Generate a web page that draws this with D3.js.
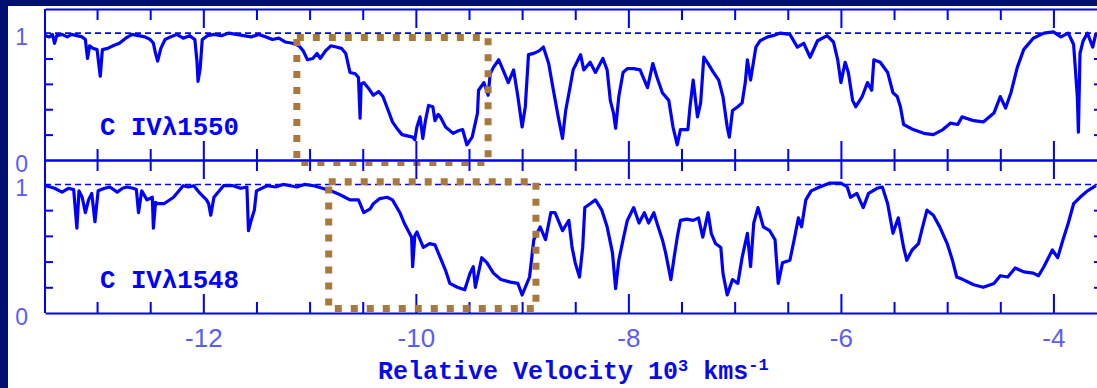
<!DOCTYPE html>
<html>
<head>
<meta charset="utf-8">
<script src="https://cdn.jsdelivr.net/npm/d3@7"></script>
<style>
  html, body { margin: 0; padding: 0; background: #ffffff; }
  svg { display: block; }
</style>
</head>
<body>
<svg id="chart" width="1097" height="388"></svg>
<script>
// C IV doublet absorption profiles: normalised flux against relative velocity (10^3 km/s)
const lineLabels = ["C IV\u03BB1550", "C IV\u03BB1548"];

const spectrum1550 = [
  [-13.49,0.98],[-13.45,0.97],[-13.42,0.99],[-13.40,0.92],[-13.38,0.98],[-13.33,0.99],[-13.28,0.97],[-13.24,0.99],
  [-13.19,0.98],[-13.14,0.97],[-13.11,0.95],[-13.09,0.80],[-13.07,0.90],[-13.04,0.88],[-13.00,0.87],[-12.97,0.66],
  [-12.95,0.87],[-12.90,0.88],[-12.85,0.90],[-12.79,0.92],[-12.73,0.96],[-12.67,0.99],[-12.61,0.98],[-12.55,0.97],
  [-12.50,0.95],[-12.47,0.92],[-12.45,0.84],[-12.43,0.78],[-12.40,0.88],[-12.36,0.95],[-12.31,0.97],[-12.25,0.99],
  [-12.19,0.96],[-12.13,0.98],[-12.08,0.95],[-12.06,0.78],[-12.05,0.62],[-12.03,0.72],[-12.01,0.95],[-11.96,0.98],
  [-11.90,0.99],[-11.83,0.98],[-11.76,1.00],[-11.69,0.99],[-11.62,0.98],[-11.55,0.97],[-11.48,0.99],[-11.41,0.97],
  [-11.35,0.95],[-11.29,0.96],[-11.23,0.93],[-11.16,0.92],[-11.10,0.90],[-11.06,0.86],[-11.02,0.79],[-10.97,0.80],
  [-10.93,0.84],[-10.90,0.80],[-10.85,0.86],[-10.80,0.90],[-10.75,0.89],[-10.70,0.88],[-10.66,0.84],[-10.62,0.69],
  [-10.57,0.68],[-10.54,0.65],[-10.525,0.33],[-10.515,0.60],[-10.49,0.61],[-10.45,0.57],[-10.40,0.51],[-10.35,0.54],
  [-10.31,0.50],[-10.26,0.39],[-10.22,0.30],[-10.17,0.24],[-10.13,0.20],[-10.08,0.19],[-10.03,0.18],[-10.01,0.16],
  [-9.99,0.26],[-9.96,0.34],[-9.935,0.17],[-9.91,0.31],[-9.88,0.43],[-9.84,0.42],[-9.82,0.31],[-9.79,0.36],
  [-9.77,0.34],[-9.72,0.26],[-9.65,0.21],[-9.60,0.23],[-9.56,0.24],[-9.52,0.12],[-9.47,0.18],[-9.42,0.37],
  [-9.41,0.55],[-9.36,0.61],[-9.32,0.51],[-9.30,0.68],[-9.27,0.73],[-9.22,0.79],[-9.18,0.71],[-9.13,0.61],
  [-9.08,0.71],[-9.04,0.50],[-9.00,0.26],[-8.97,0.42],[-8.94,0.83],[-8.89,0.84],[-8.84,0.86],[-8.80,0.89],
  [-8.75,0.76],[-8.71,0.57],[-8.66,0.34],[-8.62,0.17],[-8.59,0.39],[-8.55,0.57],[-8.52,0.71],[-8.45,0.83],
  [-8.42,0.71],[-8.36,0.77],[-8.31,0.69],[-8.24,0.80],[-8.20,0.71],[-8.17,0.47],[-8.14,0.37],[-8.12,0.25],
  [-8.09,0.50],[-8.05,0.69],[-8.01,0.72],[-7.95,0.72],[-7.89,0.71],[-7.82,0.57],[-7.77,0.76],[-7.73,0.65],
  [-7.68,0.53],[-7.62,0.47],[-7.58,0.26],[-7.54,0.12],[-7.51,0.24],[-7.44,0.24],[-7.42,0.42],[-7.39,0.63],
  [-7.35,0.34],[-7.32,0.45],[-7.29,0.81],[-7.25,0.76],[-7.20,0.69],[-7.15,0.63],[-7.11,0.50],[-7.07,0.26],
  [-7.05,0.18],[-7.02,0.39],[-6.97,0.42],[-6.93,0.45],[-6.90,0.61],[-6.88,0.79],[-6.85,0.63],[-6.80,0.89],
  [-6.76,0.94],[-6.69,0.97],[-6.64,0.98],[-6.57,1.00],[-6.48,0.99],[-6.41,0.89],[-6.35,0.92],[-6.29,0.81],
  [-6.22,0.94],[-6.13,0.98],[-6.07,0.93],[-6.03,0.79],[-6.00,0.61],[-5.96,0.77],[-5.93,0.69],[-5.89,0.47],
  [-5.86,0.42],[-5.80,0.50],[-5.75,0.61],[-5.71,0.55],[-5.69,0.79],[-5.63,0.77],[-5.56,0.69],[-5.51,0.53],
  [-5.47,0.50],[-5.44,0.42],[-5.41,0.28],[-5.32,0.24],[-5.22,0.21],[-5.13,0.20],[-5.04,0.24],[-4.97,0.29],
  [-4.90,0.28],[-4.86,0.34],[-4.75,0.31],[-4.66,0.30],[-4.56,0.37],[-4.50,0.50],[-4.45,0.41],[-4.40,0.53],
  [-4.34,0.73],[-4.28,0.87],[-4.19,0.96],[-4.09,1.00],[-4.00,1.01],[-3.93,0.97],[-3.86,1.00],[-3.81,0.91],
  [-3.775,0.50],[-3.765,0.22],[-3.75,0.84],[-3.72,0.94],[-3.68,1.00],[-3.63,0.89],[-3.60,1.00]
];

const spectrum1548 = [
  [-13.49,0.99],[-13.44,0.98],[-13.40,0.97],[-13.33,0.94],[-13.27,0.97],[-13.22,0.96],[-13.19,0.66],[-13.17,0.95],
  [-13.14,0.90],[-13.11,0.78],[-13.08,0.88],[-13.05,0.93],[-13.02,0.71],[-12.99,0.95],[-12.93,0.97],[-12.88,0.98],
  [-12.81,0.94],[-12.76,0.97],[-12.72,0.98],[-12.66,0.97],[-12.63,0.96],[-12.61,0.78],[-12.58,0.95],[-12.53,0.88],
  [-12.48,0.90],[-12.47,0.66],[-12.45,0.86],[-12.43,0.85],[-12.37,0.85],[-12.28,0.90],[-12.19,0.99],[-12.14,0.98],
  [-12.09,0.99],[-12.03,0.93],[-11.97,0.88],[-11.95,0.85],[-11.93,0.76],[-11.90,0.90],[-11.81,0.99],[-11.72,0.99],
  [-11.65,0.97],[-11.59,0.98],[-11.575,0.64],[-11.55,0.72],[-11.52,0.80],[-11.50,0.95],[-11.40,0.99],[-11.32,0.98],
  [-11.25,1.00],[-11.18,0.99],[-11.12,0.98],[-11.05,1.00],[-10.96,0.99],[-10.88,0.97],[-10.80,0.95],[-10.74,0.93],
  [-10.69,0.91],[-10.62,0.88],[-10.54,0.88],[-10.49,0.78],[-10.43,0.81],[-10.40,0.85],[-10.34,0.89],[-10.27,0.90],
  [-10.22,0.88],[-10.15,0.78],[-10.11,0.70],[-10.04,0.59],[-10.03,0.36],[-10.01,0.60],[-9.99,0.63],[-9.93,0.51],
  [-9.87,0.54],[-9.82,0.53],[-9.77,0.43],[-9.72,0.33],[-9.68,0.23],[-9.61,0.20],[-9.54,0.18],[-9.49,0.31],
  [-9.46,0.36],[-9.44,0.20],[-9.38,0.43],[-9.33,0.39],[-9.27,0.31],[-9.20,0.26],[-9.11,0.24],[-9.04,0.23],
  [-9.00,0.14],[-8.93,0.28],[-8.89,0.57],[-8.83,0.67],[-8.78,0.57],[-8.73,0.78],[-8.69,0.78],[-8.62,0.64],
  [-8.56,0.72],[-8.53,0.51],[-8.50,0.39],[-8.46,0.28],[-8.43,0.51],[-8.41,0.82],[-8.36,0.85],[-8.31,0.88],
  [-8.25,0.80],[-8.20,0.67],[-8.15,0.47],[-8.12,0.19],[-8.09,0.41],[-8.05,0.57],[-8.01,0.72],[-7.95,0.82],
  [-7.90,0.70],[-7.85,0.78],[-7.81,0.70],[-7.76,0.78],[-7.72,0.67],[-7.68,0.57],[-7.65,0.47],[-7.60,0.26],
  [-7.57,0.43],[-7.54,0.59],[-7.51,0.72],[-7.45,0.73],[-7.39,0.72],[-7.34,0.74],[-7.30,0.59],[-7.25,0.78],
  [-7.22,0.62],[-7.18,0.54],[-7.13,0.51],[-7.11,0.31],[-7.07,0.14],[-7.02,0.26],[-6.97,0.23],[-6.93,0.43],
  [-6.88,0.62],[-6.85,0.36],[-6.82,0.70],[-6.78,0.82],[-6.73,0.67],[-6.67,0.64],[-6.62,0.57],[-6.59,0.23],
  [-6.55,0.39],[-6.48,0.41],[-6.44,0.57],[-6.40,0.74],[-6.37,0.67],[-6.33,0.88],[-6.28,0.95],[-6.20,0.98],
  [-6.11,1.01],[-6.00,1.01],[-5.94,0.98],[-5.91,0.90],[-5.85,0.93],[-5.79,0.82],[-5.74,0.93],[-5.66,0.97],
  [-5.61,0.98],[-5.56,0.85],[-5.51,0.62],[-5.46,0.74],[-5.41,0.51],[-5.38,0.41],[-5.33,0.49],[-5.27,0.54],
  [-5.24,0.64],[-5.19,0.80],[-5.13,0.76],[-5.07,0.67],[-5.00,0.54],[-4.95,0.41],[-4.91,0.28],[-4.85,0.26],
  [-4.75,0.22],[-4.66,0.20],[-4.56,0.23],[-4.50,0.29],[-4.43,0.28],[-4.36,0.35],[-4.28,0.32],[-4.19,0.31],
  [-4.14,0.29],[-4.09,0.36],[-4.01,0.49],[-3.96,0.43],[-3.91,0.57],[-3.86,0.70],[-3.81,0.85],[-3.75,0.90],
  [-3.68,0.95],[-3.60,0.99]
];

// x axis: labelled majors and every half unit
const velocityTickLabels = [-12, -10, -8, -6, -4];
const velocityTicks = [-13, -12.5, -12, -11.5, -11, -10.5, -10, -9.5, -9, -8.5, -8, -7.5, -7, -6.5, -6, -5.5, -5, -4.5, -4];
const fluxTickLabels = [0, 1];
const fluxTicks = [0.2, 0.4, 0.6, 0.8];
const continuumLevel = 1;

// highlighted velocity windows: [v0, v1, fluxLow, fluxHigh]
const window1550 = [-11.12, -9.32, -0.02, 0.965];
const window1548 = [-10.82, -8.87, 0.035, 1.02];

const W = 1097, H = 388;
const BLUE = "#0000ff";
const LABEL = "#5c5cf2";
const NAVY = "#00106f";
const BOX = "#a8793f";

const svg = d3.select("#chart");

svg.append("rect").attr("width", W).attr("height", H).attr("fill", "#ffffff");
svg.append("rect").attr("x", 0).attr("y", 0).attr("width", W).attr("height", 6).attr("fill", NAVY);
svg.append("rect").attr("x", 0).attr("y", 0).attr("width", 8).attr("height", H).attr("fill", NAVY);

const x = d3.scaleLinear().domain([-13.49, -3.59]).range([45, 1097]);

const panels = [
  { label: lineLabels[0], data: spectrum1550, win: window1550, top: 9, bottom: 160, labelY: 135 },
  { label: lineLabels[1], data: spectrum1548, win: window1548, top: 160, bottom: 313, labelY: 288 }
];

svg.append("defs").append("clipPath").attr("id", "plotclip")
  .append("rect").attr("x", 45).attr("y", 9).attr("width", W - 45).attr("height", 313 - 9);

const majorLen = 19, minorLen = 11;

panels.forEach((p, i) => {
  const y = d3.scaleLinear().domain([0, 1.19]).range([p.bottom, p.top]);
  const g = svg.append("g");

  // continuum level
  g.append("line")
    .attr("x1", x.range()[0]).attr("x2", x.range()[1])
    .attr("y1", y(continuumLevel)).attr("y2", y(continuumLevel))
    .attr("stroke", BLUE).attr("stroke-width", 1.6).attr("stroke-dasharray", "6,4");

  // spectrum
  const line = d3.line().x(d => x(d[0])).y(d => y(d[1]));
  g.append("path")
    .datum(p.data)
    .attr("clip-path", "url(#plotclip)")
    .attr("d", line)
    .attr("fill", "none")
    .attr("stroke", BLUE)
    .attr("stroke-width", 3.2)
    .attr("stroke-linejoin", "round");

  // top and bottom velocity axes with inward ticks
  const tickLen = d => (Math.abs(d % 2) < 1e-6 ? majorLen : minorLen);
  const topAxis = g.append("g").attr("transform", `translate(0,${p.top})`)
    .call(d3.axisTop(x).tickValues(velocityTicks).tickFormat("").tickSizeOuter(0).tickSizeInner(-minorLen));
  topAxis.selectAll(".tick line").attr("y2", d => tickLen(d));
  const botAxis = g.append("g").attr("transform", `translate(0,${p.bottom})`)
    .call(d3.axisBottom(x).tickValues(velocityTicks).tickFormat("").tickSizeOuter(0).tickSizeInner(-minorLen));
  botAxis.selectAll(".tick line").attr("y2", d => -tickLen(d));

  // left flux axis
  const leftAxis = g.append("g").attr("transform", "translate(45,0)")
    .call(d3.axisLeft(y).tickValues(fluxTicks).tickFormat("").tickSizeOuter(0).tickSizeInner(-8));
  leftAxis.select(".domain").attr("d", `M0,${p.top}V${p.bottom}`);

  // right flux axis (sits just past the page edge, ticks reach in)
  g.append("g").attr("transform", "translate(1102,0)")
    .call(d3.axisRight(y).tickValues(fluxTicks).tickFormat("").tickSizeOuter(0).tickSizeInner(-8));

  // flux labels
  const lab = g.append("g").attr("transform", "translate(45,0)")
    .call(d3.axisLeft(y).tickValues(fluxTickLabels).tickFormat(d => String(d)).tickSize(0).tickPadding(17));
  lab.select(".domain").remove();
  lab.selectAll("text")
    .attr("dy", "0.5em")
    .attr("font-family", "'Liberation Sans', Arial, sans-serif")
    .attr("font-size", 23)
    .attr("fill", LABEL);

  g.selectAll(".domain, .tick line").attr("stroke", BLUE).attr("stroke-width", 2);

  // transition label
  g.append("text")
    .attr("x", 100).attr("y", p.labelY)
    .attr("font-family", "'Liberation Mono', 'Courier New', monospace")
    .attr("font-weight", "bold")
    .attr("font-size", 26)
    .attr("textLength", 139)
    .attr("lengthAdjust", "spacingAndGlyphs")
    .attr("fill", BLUE)
    .text(p.label);

  // highlighted window
  const [v0, v1, f0, f1] = p.win;
  g.append("rect")
    .attr("x", x(v0)).attr("y", y(f1))
    .attr("width", x(v1) - x(v0)).attr("height", y(f0) - y(f1))
    .attr("fill", "none")
    .attr("stroke", BOX)
    .attr("stroke-width", 7)
    .attr("stroke-dasharray", "7,9");
});

// velocity tick labels
const xl = svg.append("g").attr("transform", "translate(0,313)")
  .call(d3.axisBottom(x).tickValues(velocityTickLabels).tickFormat(d => String(d)).tickSize(0).tickPadding(16));
xl.select(".domain").remove();
xl.selectAll("text")
  .attr("font-family", "'Liberation Sans', Arial, sans-serif")
  .attr("font-size", 26)
  .attr("fill", LABEL);

// axis title
const title = svg.append("text")
  .attr("x", 378).attr("y", 379)
  .attr("font-family", "'Liberation Mono', 'Courier New', monospace")
  .attr("font-weight", "bold")
  .attr("font-size", 25)
  .attr("fill", "#0a0ae6");
title.append("tspan").text("Relative Velocity 10");
title.append("tspan").attr("dy", -8).attr("font-size", 17).text("3");
title.append("tspan").attr("dy", 8).text(" kms");
title.append("tspan").attr("dy", -9).attr("font-size", 17).text("-1");
</script>
</body>
</html>
